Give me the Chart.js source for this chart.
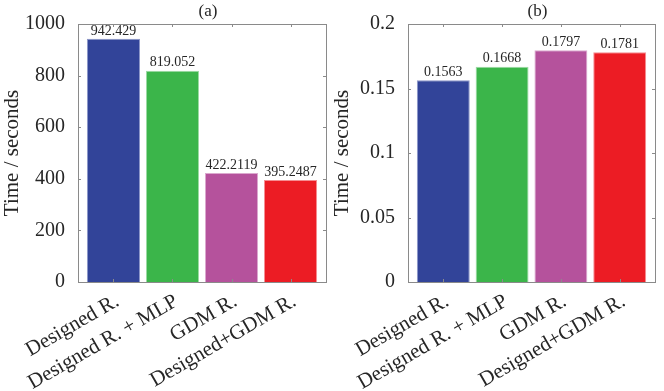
<!DOCTYPE html>
<html>
<head>
<meta charset="utf-8">
<script src="https://cdn.jsdelivr.net/npm/chart.js@4"></script>
<style>
  body { margin: 0; background: #fff; }
  #wrap { position: relative; width: 664px; height: 391px; }
  #wrapA { position: absolute; left: 0; top: 0; }
  #wrapB { position: absolute; left: 330px; top: 0; }
</style>
</head>
<body>
<div id="wrap">
  <div id="wrapA"><canvas id="chartA" width="330" height="391"></canvas></div>
  <div id="wrapB"><canvas id="chartB" width="334" height="391"></canvas></div>
</div>
<script>
// dữ liệu
const categories = ['Designed R.', 'Designed R. + MLP', 'GDM R.', 'Designed+GDM R.'];
const timesA = [942.429, 819.052, 422.2119, 395.2487];
const timesB = [0.1563, 0.1668, 0.1797, 0.1781];
const barColors = ['#324499', '#3bb54a', '#b5529c', '#ec1c24'];
const barEdges = ['#8c96c8', '#9ddaa4', '#dba9ce', '#f58e92'];
const yTicksA = [0, 200, 400, 600, 800, 1000];
const yTicksB = [0, 0.05, 0.1, 0.15, 0.2];

const SERIF = "'Liberation Serif', 'Times New Roman', serif";
const TEXT = '#262626';

// khung + vạch chia hướng vào trong + nhãn giá trị
const boxPlugin = {
    id: 'boxPlugin',
    afterDatasetsDraw(chart, args, opts) {
        const ctx = chart.ctx;
        const a = chart.chartArea;
        const xs = chart.scales.x;
        const ys = chart.scales.y;
        const t = 3;
        ctx.save();
        ctx.strokeStyle = '#8a8a8a';
        ctx.lineWidth = 1;
        ctx.strokeRect(Math.round(a.left) + 0.5, Math.round(a.top) + 0.5,
            Math.round(a.right - a.left), Math.round(a.bottom - a.top));
        ctx.beginPath();
        ys.ticks.forEach(tk => {
            const y = Math.round(ys.getPixelForValue(tk.value)) + 0.5;
            ctx.moveTo(a.left, y); ctx.lineTo(a.left + t, y);
            ctx.moveTo(a.right, y); ctx.lineTo(a.right - t, y);
        });
        xs.ticks.forEach(tk => {
            const x = Math.round(xs.getPixelForValue(tk.value)) + 0.5;
            ctx.moveTo(x, a.top); ctx.lineTo(x, a.top + t);
            ctx.moveTo(x, a.bottom); ctx.lineTo(x, a.bottom - t);
        });
        ctx.stroke();

        // nhãn trên cột
        ctx.fillStyle = TEXT;
        ctx.font = '14px ' + SERIF;
        ctx.textAlign = 'center';
        ctx.textBaseline = 'bottom';
        const meta = chart.getDatasetMeta(0);
        meta.data.forEach((bar, i) => {
            ctx.fillText(String(chart.data.datasets[0].data[i].y), bar.x, bar.y - 1);
        });

        // tiêu đề (a)/(b)
        ctx.font = '17px ' + SERIF;
        ctx.textBaseline = 'middle';
        ctx.fillText(opts.title, (a.left + a.right) / 2 + 6, 12);
        ctx.restore();
    }
};

function makeChart(canvasId, values, yTicks, yMax, title, rightPad) {
    const ctx = document.getElementById(canvasId).getContext('2d');
    return new Chart(ctx, {
        type: 'bar',
        data: {
            datasets: [{
                data: values.map((v, i) => ({ x: i + 1, y: v })),
                backgroundColor: barColors,
                borderColor: barEdges,
                borderWidth: 1,
                categoryPercentage: 1,
                barPercentage: 0.9
            }]
        },
        options: {
            responsive: false,
            animation: false,
            layout: { padding: { top: 24, right: rightPad, left: 0, bottom: 0 } },
            plugins: {
                legend: { display: false },
                tooltip: { enabled: false },
                boxPlugin: { title: title }
            },
            scales: {
                x: {
                    type: 'linear',
                    offset: false,
                    min: 0.4,
                    max: 4.6,
                    afterBuildTicks: axis => {
                        axis.ticks = categories.map((c, i) => ({ value: i + 1 }));
                    },
                    afterFit: axis => {
                        axis.height = 109;
                        axis.paddingLeft = 0;
                        axis.paddingRight = 0;
                    },
                    grid: { display: false, drawTicks: false },
                    border: { display: false },
                    ticks: {
                        autoSkip: false,
                        minRotation: 30,
                        maxRotation: 30,
                        padding: 7,
                        labelOffset: 4,
                        color: TEXT,
                        font: { family: SERIF, size: 21 },
                        callback: v => categories[Math.round(v) - 1]
                    }
                },
                y: {
                    min: 0,
                    max: yMax,
                    afterBuildTicks: axis => {
                        axis.ticks = yTicks.map(v => ({ value: v }));
                    },
                    afterFit: axis => { axis.width = 78; },
                    grid: { display: false },
                    border: { display: false },
                    title: {
                        display: true,
                        text: 'Time / seconds',
                        color: TEXT,
                        font: { family: SERIF, size: 21 },
                        padding: { top: 0, bottom: 2 }
                    },
                    ticks: {
                        padding: 5,
                        color: TEXT,
                        font: { family: SERIF, size: 20 },
                        callback: v => String(v)
                    }
                }
            }
        },
        plugins: [boxPlugin]
    });
}

makeChart('chartA', timesA, yTicksA, 1000, '(a)', 4);
makeChart('chartB', timesB, yTicksB, 0.2, '(b)', 9);
</script>
</body>
</html>
